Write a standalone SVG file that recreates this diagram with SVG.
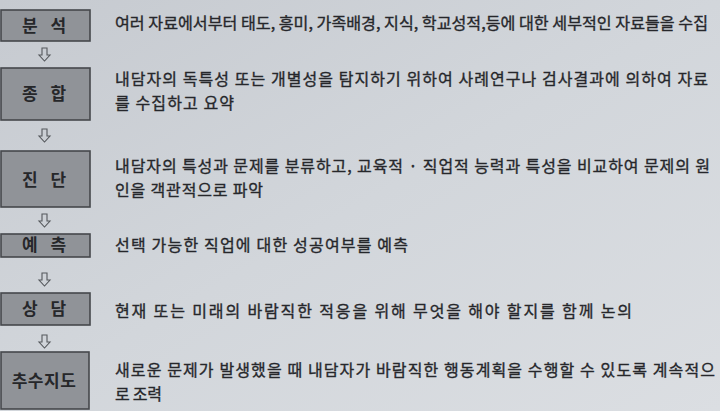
<svg xmlns="http://www.w3.org/2000/svg" width="720" height="411" viewBox="0 0 720 411">
  <style>
    .box { fill: #909398; stroke: #45484c; stroke-width: 1.6; }
    .lbl { font-family: "Noto Sans CJK KR", "Noto Sans", sans-serif; font-size: 17px; font-weight: bold; fill: #26272a; text-anchor: middle; word-spacing: 9px; }
    .desc { font-family: "Noto Sans CJK KR", "Noto Sans", sans-serif; font-size: 16px; fill: #26272b; stroke: #26272b; stroke-width: 0.35; }
    .arr { fill: none; stroke: #55585c; stroke-width: 1.1; stroke-linejoin: miter; }
  </style>
  <defs>
    <linearGradient id="bg" x1="0" y1="0" x2="1" y2="1">
      <stop offset="0" stop-color="#c6cad0"/>
      <stop offset="0.5" stop-color="#d2d6db"/>
      <stop offset="1" stop-color="#dbdee2"/>
    </linearGradient>
    <path id="down" class="arr" d="M-2.5,0 H2.5 V7 H5.5 L0,13 L-5.5,7 H-2.5 Z"/>
  </defs>
  <rect x="0" y="0" width="720" height="411" fill="url(#bg)"/>

  <g id="connectors">
    <use href="#down" x="44.5" y="48"/>
    <use href="#down" x="44.5" y="129"/>
    <use href="#down" x="44.5" y="214"/>
    <use href="#down" x="44.5" y="273"/>
    <use href="#down" x="44.5" y="335"/>
  </g>

  <g id="node-analysis">
    <rect class="box" x="1" y="10" width="89" height="31"/>
    <text class="lbl" x="44" y="32">분 석</text>
    <text class="desc" x="115" y="29" textLength="593" lengthAdjust="spacingAndGlyphs">여러 자료에서부터 태도, 흥미, 가족배경, 지식, 학교성적,등에 대한 세부적인 자료들을 수집</text>
  </g>

  <g id="node-synthesis">
    <rect class="box" x="1" y="68" width="89" height="52"/>
    <text class="lbl" x="44" y="100">종 합</text>
    <text class="desc" x="115" y="85" textLength="593" lengthAdjust="spacing">내담자의 독특성 또는 개별성을 탐지하기 위하여 사례연구나 검사결과에 의하여 자료</text>
    <text class="desc" x="115" y="109" textLength="119" lengthAdjust="spacing">를 수집하고 요약</text>
  </g>

  <g id="node-diagnosis">
    <rect class="box" x="1" y="151" width="89" height="56"/>
    <text class="lbl" x="44" y="186">진 단</text>
    <text class="desc" x="115" y="172" textLength="595" lengthAdjust="spacing">내담자의 특성과 문제를 분류하고, 교육적 · 직업적 능력과 특성을 비교하여 문제의 원</text>
    <text class="desc" x="115" y="196" textLength="148" lengthAdjust="spacing">인을 객관적으로 파악</text>
  </g>

  <g id="node-prediction">
    <rect class="box" x="1" y="234" width="89" height="23"/>
    <text class="lbl" x="44" y="251">예 측</text>
    <text class="desc" x="115" y="251" textLength="293" lengthAdjust="spacing">선택 가능한 직업에 대한 성공여부를 예측</text>
  </g>

  <g id="node-counseling">
    <rect class="box" x="1" y="293" width="89" height="32"/>
    <text class="lbl" x="44" y="315">상 담</text>
    <text class="desc" x="115" y="317" textLength="517" lengthAdjust="spacing">현재 또는 미래의 바람직한 적응을 위해 무엇을 해야 할지를 함께 논의</text>
  </g>

  <g id="node-followup">
    <rect class="box" x="1" y="352" width="88" height="57"/>
    <text class="lbl" x="44" y="387" letter-spacing="0.5">추수지도</text>
    <text class="desc" x="115" y="376" textLength="600" lengthAdjust="spacing">새로운 문제가 발생했을 때 내담자가 바람직한 행동계획을 수행할 수 있도록 계속적으</text>
    <text class="desc" x="115" y="400" textLength="47" lengthAdjust="spacing">로 조력</text>
  </g>
</svg>
